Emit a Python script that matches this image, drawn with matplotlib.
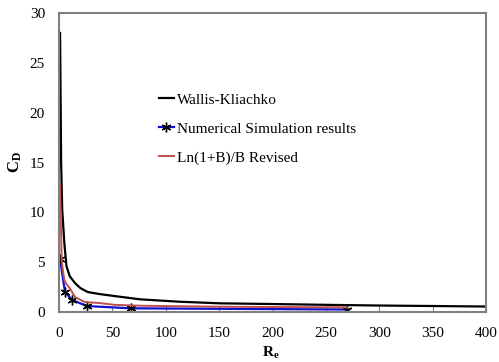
import matplotlib
matplotlib.use("Agg")
import matplotlib.pyplot as plt

# Wallis-Kliachko curve
wk_x = [1, 2, 3, 5, 7, 10, 15, 20, 27, 38, 52, 76, 113, 151, 200, 263, 300, 350, 400]
wk_y = [28.0, 15.0, 10.3, 6.9, 4.6, 3.6, 2.9, 2.4, 2.0, 1.8, 1.6, 1.27, 1.03, 0.87, 0.8, 0.7, 0.65, 0.6, 0.55]

# Numerical simulation results
ns_x = [1, 5.6, 12.5, 26, 67, 270]
ns_y = [5.3, 2.0, 1.2, 0.6, 0.37, 0.25]

# Ln(1+B)/B Revised
ln_x = [1, 1.5, 2.5, 4, 5, 7, 10, 15, 24, 38, 52, 76, 151, 200, 270]
ln_y = [12.8, 10.2, 5.2, 3.9, 3.2, 2.8, 2.4, 1.5, 1.0, 0.9, 0.72, 0.63, 0.53, 0.5, 0.47]

plt.rcParams['font.family'] = ['Liberation Serif', 'DejaVu Serif']
plt.rcParams['mathtext.fontset'] = 'custom'
plt.rcParams['mathtext.rm'] = 'Liberation Serif'
plt.rcParams['mathtext.bf'] = 'Liberation Serif:bold'

fig = plt.figure(figsize=(4.99, 3.62), dpi=100)
ax = fig.add_axes([59/499, (362-312)/362, (486-59)/499, (312-13)/362])

ax.plot(wk_x, wk_y, color='black', lw=1.6, label='Wallis-Kliachko')
ax.plot(ns_x, ns_y, color='#1010d0', lw=1.6, marker=(6, 2, 0), ms=7, mec='black', mew=1.0,
        label='Numerical Simulation results')
ax.plot(ln_x, ln_y, color='#c0504d', lw=1.4, label='Ln(1+B)/B Revised')

ax.set_xlim(0, 400)
ax.set_ylim(0, 30)
ax.set_xticks(range(0, 401, 50))
ax.set_yticks(range(0, 31, 5))
ax.tick_params(axis='x', direction='in', length=4, color='#808080', labelsize=11, pad=11)
ax.tick_params(axis='y', length=0, labelsize=11, pad=10)
for s in ax.spines.values():
    s.set_color('#808080')
    s.set_linewidth(1.5)

ax.set_xlabel(r'$\mathbf{R_e}$', fontsize=11)
ax.set_ylabel(r'$\mathbf{C_D}$', fontsize=12)
ax.xaxis.set_label_coords((271-59)/427, (312-345)/299)
ax.yaxis.set_label_coords((24-59)/427, (312-162)/299)

ax.legend(loc='upper left', bbox_to_anchor=((159-59)/427, (312-93)/299), frameon=False, fontsize=11,
          handlelength=0.95, handletextpad=0.2, labelspacing=1.0, borderaxespad=0, borderpad=0)

fig.savefig('out.png', dpi=100)
